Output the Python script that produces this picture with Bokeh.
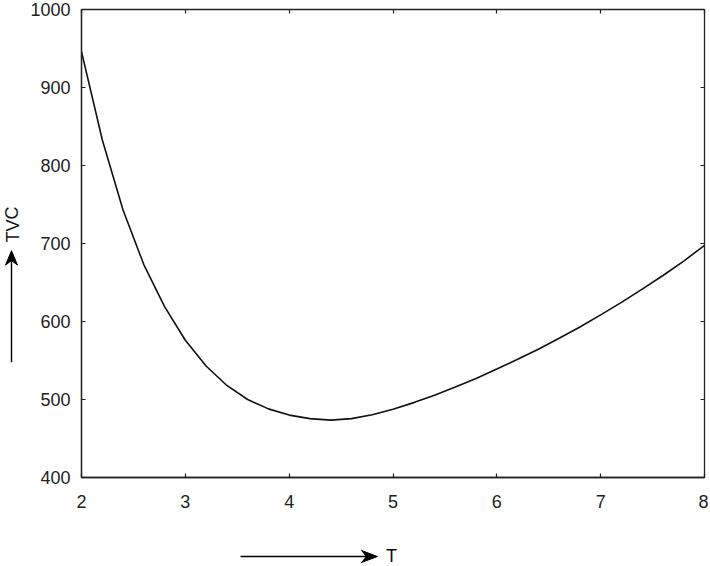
from bokeh.plotting import figure
from bokeh.models import Range1d, LinearAxis, FixedTicker, CustomJSTickFormatter
from bokeh.layouts import row, column
from bokeh.core.properties import value
from bokeh.embed import file_html
from bokeh.resources import INLINE

# Data
T_vals = [2.0, 2.2, 2.4, 2.6, 2.8, 3.0, 3.2, 3.4, 3.6, 3.8, 4.0, 4.2, 4.4, 4.6, 4.8,
          5.0, 5.2, 5.4, 5.6, 5.8, 6.0, 6.2, 6.4, 6.6, 6.8, 7.0, 7.2, 7.4, 7.6, 7.8, 8.0]
TVC_vals = [946, 833, 743, 673, 619, 576, 543, 518, 500, 488, 480, 475.5, 473.5, 475.5, 480.5,
            487.5, 496, 505.5, 516, 527, 539, 551.5, 564.5, 578.5, 593, 608.5, 624.5, 641.5,
            659, 677.5, 697.5]
x_ticks = [2, 3, 4, 5, 6, 7, 8]
y_ticks = [400, 500, 600, 700, 800, 900, 1000]
x_label = "T"
y_label = "TVC"

FONT = "Liberation Sans"
FS = "18px"
INK = "#222222"

# ---- main chart ----
p = figure(width=686, height=520, output_backend="svg", toolbar_location=None,
           x_range=Range1d(2, 8), y_range=Range1d(400, 1000),
           min_border_left=59, min_border_right=4, min_border_top=9, min_border_bottom=43)
p.grid.visible = False
p.outline_line_color = INK
p.outline_line_width = 1.3
p.border_fill_color = "white"

for ax, ticks in ((p.xaxis[0], x_ticks), (p.yaxis[0], y_ticks)):
    ax.ticker = FixedTicker(ticks=ticks)
    ax.minor_tick_line_color = None
    ax.major_tick_in = 4
    ax.major_tick_out = 0
    ax.axis_line_color = INK
    ax.axis_line_width = 1.3
    ax.major_tick_line_color = INK
    ax.major_tick_line_width = 1.2
    ax.major_label_text_font = FONT
    ax.major_label_text_font_size = FS
    ax.major_label_text_color = INK
p.xaxis[0].major_label_standoff = 17
p.yaxis[0].major_label_standoff = 11

blank = CustomJSTickFormatter(code="return ''")
for loc, ticks in (("above", x_ticks), ("right", y_ticks)):
    ax = LinearAxis(ticker=FixedTicker(ticks=ticks), formatter=blank)
    ax.minor_tick_line_color = None
    ax.major_tick_in = 4
    ax.major_tick_out = 0
    ax.major_label_standoff = 0
    ax.axis_line_color = INK
    ax.major_tick_line_color = INK
    ax.major_tick_line_width = 1.2
    p.add_layout(ax, loc)

p.line(T_vals, TVC_vals, line_color="#111111", line_width=1.6)

HEAD_L, HEAD_W, NOTCH = 16, 6, 5

# ---- left strip: y-axis title with arrow ----
LW, LH = 22, 520
left = figure(width=LW, height=LH, output_backend="svg", toolbar_location=None,
              x_range=Range1d(0, LW), y_range=Range1d(0, LH),
              x_axis_type=None, y_axis_type=None, min_border=0)
left.grid.visible = False
left.outline_line_color = None
ax_x, y0, y1 = 11, LH - 392, LH - 268
left.segment(x0=[ax_x], y0=[y0], x1=[ax_x], y1=[y1 - NOTCH - 2], line_color="black", line_width=1.4)
left.patch(x=[ax_x, ax_x + HEAD_W, ax_x, ax_x - HEAD_W],
           y=[y1, y1 - HEAD_L, y1 - HEAD_L + NOTCH, y1 - HEAD_L],
           fill_color="black", line_color="black", line_width=1)
left.text(x=[12], y=[LH - 239], text=[y_label], angle=1.5708,
          text_font=value(FONT), text_font_size=FS, text_color="#111111",
          text_align="center", text_baseline="middle")

# ---- bottom strip: x-axis title with arrow ----
BW, BH = 708, 45
bottom = figure(width=BW, height=BH, output_backend="svg", toolbar_location=None,
                x_range=Range1d(0, BW), y_range=Range1d(0, BH),
                x_axis_type=None, y_axis_type=None, min_border=0)
bottom.grid.visible = False
bottom.outline_line_color = None
ay, x0, x1 = 9, 240, 377
bottom.segment(x0=[x0], y0=[ay], x1=[x1 - NOTCH - 2], y1=[ay], line_color="black", line_width=1.4)
bottom.patch(x=[x1, x1 - HEAD_L, x1 - HEAD_L + NOTCH, x1 - HEAD_L],
             y=[ay, ay + HEAD_W, ay, ay - HEAD_W],
             fill_color="black", line_color="black", line_width=1)
bottom.text(x=[391], y=[ay + 1], text=[x_label],
            text_font=value(FONT), text_font_size=FS, text_color="#111111",
            text_align="center", text_baseline="middle")

layout = column(row(left, p, spacing=0), bottom, spacing=0)
open("out.html", "w").write(file_html(layout, INLINE))
